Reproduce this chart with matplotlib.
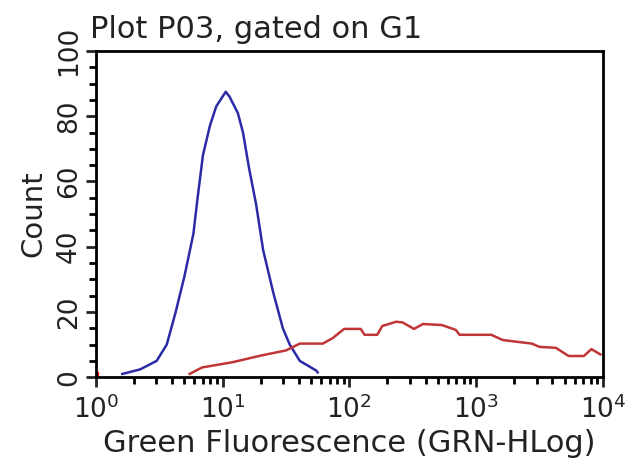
import matplotlib
matplotlib.use('Agg')
import matplotlib.pyplot as plt
from matplotlib.ticker import MultipleLocator, LogLocator

plt.rcParams['font.family'] = ['DejaVu Sans']

# blue histogram (fluorescence, count)
blue_x = [1.62, 2.24, 3.02, 3.63, 4.27, 5.01, 5.89, 6.31, 7.0, 7.94, 8.91, 10.0,
          10.6, 11.35, 13.2, 14.5, 16.2, 18.4, 20.9, 25.1, 29.9, 33.9, 40.7, 55.0, 56.2]
blue_y = [1, 2.4, 5, 10, 20, 31, 44, 54, 68, 77, 83, 86, 87.5, 86, 81, 75, 64, 53,
          39, 26, 15, 10, 5, 2, 1.5]

# red histogram
red_x = [5.5, 6.9, 12, 20.4, 31.6, 40.7, 61.7, 74, 91, 123, 132, 166, 182, 234,
         263, 324, 380, 537, 692, 741, 1318, 1622, 2754, 3162, 4266, 5370, 7079,
         8128, 9550]
red_y = [1, 3, 4.6, 6.7, 8.2, 10.3, 10.3, 12, 14.8, 14.8, 13, 13, 15.7, 17, 16.8,
         14.8, 16.3, 16, 14.5, 13, 13, 11.4, 10.3, 9.3, 9, 6.5, 6.5, 8.6, 7]

title = 'Plot P03, gated on G1'
xlabel = 'Green Fluorescence (GRN-HLog)'
ylabel = 'Count'

fig = plt.figure(figsize=(6.26, 4.68), dpi=100)
ax = fig.add_axes([0.153, 0.194, 0.81, 0.697])

ax.plot(blue_x, blue_y, color='#2b2ba8', lw=1.8)
ax.plot(red_x, red_y, color='#c03535', lw=1.8)
ax.plot([1.0], [1.0], 's', color='red', ms=3)

ax.set_xscale('log')
ax.set_xlim(1, 10000)
ax.set_ylim(0, 100)

ax.yaxis.set_major_locator(MultipleLocator(20))
ax.yaxis.set_minor_locator(MultipleLocator(5))
ax.xaxis.set_major_locator(LogLocator(base=10))
ax.xaxis.set_minor_locator(LogLocator(base=10, subs=range(2, 10)))

for s in ax.spines.values():
    s.set_linewidth(2)
ax.tick_params(axis='both', which='major', direction='out', length=7, width=2,
               labelsize=19, colors='#222222')
ax.tick_params(axis='x', which='major', pad=6)
ax.tick_params(axis='y', which='major', pad=3)
ax.tick_params(axis='both', which='minor', direction='out', length=5, width=2)
ax.tick_params(axis='y', labelrotation=90)
for lab in ax.get_yticklabels():
    lab.set_va('center')

ax.set_xlabel(xlabel, fontsize=22, color='#222222', labelpad=4)
ax.set_ylabel(ylabel, fontsize=21, color='#222222', labelpad=6)
fig.text(0.143, 0.936, title, fontsize=22, color='#222222', va='center', ha='left')

fig.savefig('out.png', dpi=100)
